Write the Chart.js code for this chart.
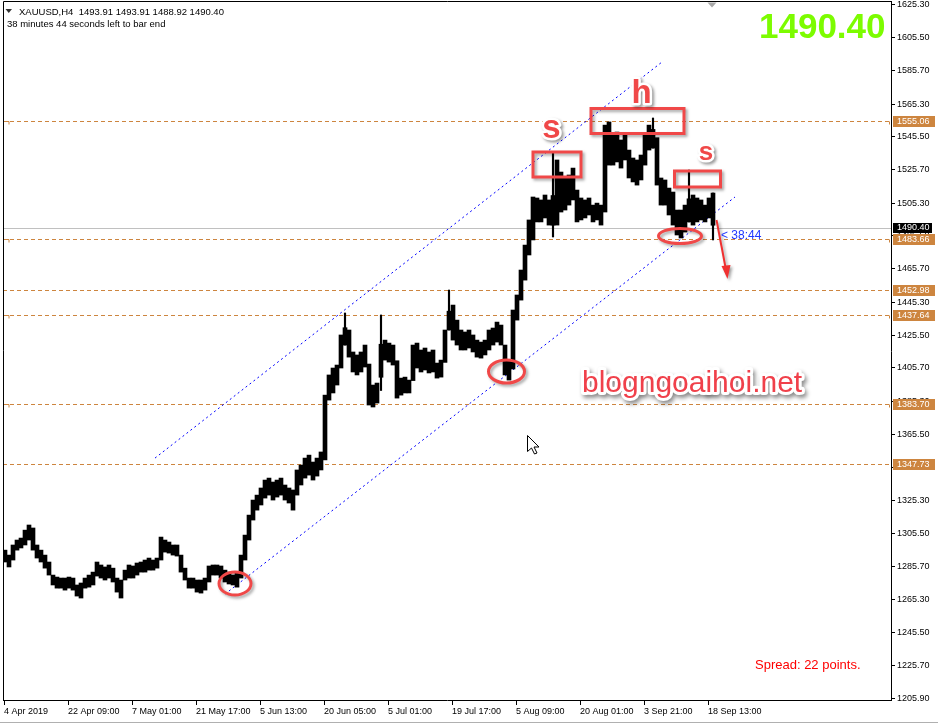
<!DOCTYPE html>
<html><head><meta charset="utf-8">
<script src="https://cdn.jsdelivr.net/npm/chart.js@4/dist/chart.umd.min.js"></script>
<style>html,body{margin:0;padding:0;background:#fff;overflow:hidden}canvas{display:block}</style>
</head><body>
<canvas id="c" width="938" height="725"></canvas>
<script>
// ---------- data ----------
const symbolTitle = 'XAUUSD,H4';
const lastBarOHLC = ['1493.91', '1493.91', '1488.92', '1490.40'];
const timerText = '38 minutes 44 seconds left to bar end';
const dateLabels = ['4 Apr 2019', '22 Apr 09:00', '7 May 01:00', '21 May 17:00', '5 Jun 13:00', '20 Jun 05:00',
  '5 Jul 01:00', '19 Jul 17:00', '5 Aug 09:00', '20 Aug 01:00', '3 Sep 21:00', '18 Sep 13:00'];
const dateTickBars = [1, 65, 129, 193, 257, 321, 385, 449, 513, 577, 641, 705];
const priceTicks = [1625.30, 1605.50, 1585.70, 1565.30, 1545.50, 1525.70, 1505.30, 1485.50, 1465.70, 1445.30, 1425.50,
  1405.70, 1385.30, 1365.50, 1345.70, 1325.30, 1305.50, 1285.70, 1265.30, 1245.50, 1225.70, 1205.90];
// high / low of the body of each group of 4 H4 bars
const barHigh = [
1295.4,1292.4,1298.5,1301.5,1302.7,1307.5,1310.6,1308.8,1298.5,1295.4,
1292.4,1288.2,1280.3,1279.1,1278.5,1278.5,1279.1,1278.5,1274.3,1275.5,
1278.5,1280.3,1282.1,1288.2,1286.4,1285.2,1286.4,1284.5,1278.5,1277.3,
1283.3,1286.4,1285.8,1287.6,1288.2,1289.4,1290.6,1289.4,1290.6,1303.3,
1301.5,1300.3,1298.5,1298.5,1292.4,1284.5,1278.5,1278.5,1277.3,1277.3,
1278.5,1285.8,1286.4,1286.4,1285.8,1283.3,1282.1,1280.3,1282.1,1292.4,
1304.5,1316.6,1325.7,1328.7,1333.0,1337.8,1339.0,1336.6,1337.8,1339.0,
1334.8,1333.0,1331.8,1343.9,1346.9,1351.1,1352.9,1348.7,1351.1,1354.8,
1389.2,1401.4,1405.6,1407.4,1425.6,1430.0,1428.6,1415.3,1413.5,1415.3,
1419.5,1408.0,1395.3,1396.5,1420.0,1422.5,1420.7,1419.5,1410.0,1399.5,
1400.1,1398.3,1419.5,1420.7,1416.5,1417.7,1415.3,1416.5,1408.6,1410.4,
1428.6,1440.0,1443.7,1434.6,1428.6,1427.4,1428.6,1425.6,1422.5,1421.3,
1422.5,1428.6,1429.8,1433.4,1431.6,1419.5,1410.4,1440.7,1449.8,1464.9,
1480.0,1495.2,1509.1,1508.5,1507.3,1510.3,1507.3,1510.0,1531.5,1524.2,
1520.6,1522.4,1526.6,1513.3,1508.5,1507.3,1508.5,1504.2,1505.4,1504.2,
1552.6,1554.5,1546.6,1548.4,1543.6,1546.6,1537.5,1532.7,1531.5,1534.5,
1546.6,1552.6,1550.0,1545.0,1520.6,1519.4,1514.5,1512.1,1501.2,1501.2,
1504.2,1508.0,1510.3,1508.5,1507.3,1504.2,1508.5,1511.5];
const barLow = [
1288.2,1285.2,1289.4,1295.4,1296.7,1298.5,1301.5,1295.4,1290.6,1288.2,
1284.5,1280.3,1274.3,1272.4,1272.4,1271.2,1272.4,1271.2,1267.6,1266.4,
1272.4,1273.0,1274.3,1279.7,1278.5,1277.3,1278.5,1276.1,1270.0,1266.4,
1277.3,1278.5,1278.5,1280.3,1282.1,1282.1,1283.3,1283.3,1284.5,1289.4,
1294.2,1293.6,1292.4,1291.8,1282.1,1277.3,1272.4,1272.4,1270.0,1269.4,
1271.2,1276.1,1280.3,1280.3,1278.5,1276.1,1274.9,1274.3,1273.0,1278.5,
1289.4,1301.5,1313.6,1319.6,1322.7,1326.9,1328.7,1325.7,1327.5,1328.7,
1325.7,1323.9,1319.6,1328.7,1334.8,1339.0,1340.8,1337.8,1340.2,1343.9,
1350.0,1386.2,1390.5,1395.3,1405.6,1419.5,1412.2,1403.2,1401.4,1403.2,
1406.2,1383.2,1382.0,1384.4,1400.0,1410.4,1409.2,1407.4,1387.4,1389.2,
1390.5,1390.5,1398.0,1405.6,1403.2,1404.4,1402.6,1403.2,1399.5,1400.1,
1409.0,1428.6,1422.5,1419.5,1416.5,1416.5,1417.7,1415.3,1412.2,1411.6,
1413.5,1416.5,1419.5,1421.3,1419.5,1401.4,1398.3,1405.0,1434.6,1446.7,
1458.8,1474.0,1483.1,1494.0,1494.0,1496.4,1492.1,1492.0,1492.1,1500.0,
1501.2,1504.2,1507.3,1494.0,1495.2,1496.4,1498.2,1494.0,1495.2,1492.1,
1500.0,1528.4,1528.4,1530.3,1526.6,1531.5,1520.6,1518.2,1516.3,1519.4,
1528.4,1537.5,1538.7,1516.3,1504.2,1504.2,1498.2,1492.1,1486.1,1484.3,
1487.9,1494.0,1492.1,1494.0,1495.2,1494.0,1496.4,1492.0];
// single long bars (spikes): group index, high, low
const spikeGroup = [85, 94, 111, 137, 162, 171, 177];
const spikeHigh = [1438.9, 1437.7, 1452.8, 1535.7, 1556.9, 1525.4, 1511.5];
const spikeLow = [1419.5, 1392.0, 1428.6, 1484.9, 1538.7, 1494.0, 1483.1];
const barsPerGroup = 4;
const levelPrices = [1555.06, 1483.66, 1452.98, 1437.64, 1383.70, 1347.73];
const alertLevels = [1555.06, 1483.66, 1437.64, 1383.70];
const bidPrice = 1490.40;
const channelUpperBars = [152, 659];
const channelUpperPrices = [1351.1, 1590.8];
const channelLowerBars = [222, 732];
const channelLowerPrices = [1268.8, 1509.1];

// ---------- chart ----------
const FONT = '"Liberation Sans", Arial, sans-serif';
Chart.defaults.font.family = FONT;

const hlData = barHigh.map((h, i) => ({ x: i * barsPerGroup + barsPerGroup / 2, y: [barLow[i], h] }));
const spikeData = spikeGroup.map((g, i) => ({ x: g * barsPerGroup + barsPerGroup / 2, y: [spikeLow[i], spikeHigh[i]] }));
const upperData = channelUpperBars.map((b, i) => ({ x: b, y: channelUpperPrices[i] }));
const lowerData = channelLowerBars.map((b, i) => ({ x: b, y: channelLowerPrices[i] }));

function shadow(ctx, on, blur, ox, oy, col) {
  if (on) { ctx.shadowColor = col || 'rgba(0,0,0,0.35)'; ctx.shadowBlur = blur; ctx.shadowOffsetX = ox; ctx.shadowOffsetY = oy; }
  else { ctx.shadowColor = 'rgba(0,0,0,0)'; ctx.shadowBlur = 0; ctx.shadowOffsetX = 0; ctx.shadowOffsetY = 0; }
}

const overlay = {
  id: 'mt4overlay',
  beforeDatasetsDraw(chart) {
    const { ctx, chartArea: a, scales: { y } } = chart;
    ctx.save();
    ctx.lineWidth = 1;
    ctx.strokeStyle = '#c0c0c0';
    let py = Math.round(y.getPixelForValue(bidPrice)) + 0.5;
    ctx.beginPath(); ctx.moveTo(a.left, py); ctx.lineTo(a.right, py); ctx.stroke();
    ctx.strokeStyle = '#cd853f';
    ctx.setLineDash([4, 3]);
    levelPrices.forEach(p => {
      const yy = Math.round(y.getPixelForValue(p)) + 0.5;
      ctx.beginPath(); ctx.moveTo(a.left, yy); ctx.lineTo(a.right, yy); ctx.stroke();
    });
    ctx.setLineDash([]);
    alertLevels.forEach(p => {
      const yy = Math.round(y.getPixelForValue(p)) + 0.5;
      ctx.beginPath(); ctx.moveTo(a.left + 1, yy); ctx.lineTo(a.left + 6, yy); ctx.lineTo(a.left + 6, yy + 3); ctx.stroke();
      ctx.beginPath(); ctx.moveTo(a.right - 1.5, yy); ctx.lineTo(a.right - 1.5, yy + 3); ctx.stroke();
    });
    ctx.restore();
  },
  afterDatasetsDraw(chart) {
    const ctx = chart.ctx;
    ctx.save();
    const red = '#f04848';
    // rectangles
    ctx.lineWidth = 3; ctx.strokeStyle = red;
    shadow(ctx, true, 3, 2, 2);
    [[533, 152, 48, 25], [591, 108.5, 93, 25], [674.5, 171, 46, 16]].forEach(r => ctx.strokeRect(r[0], r[1], r[2], r[3]));
    // ellipses
    [[235, 583.5, 16, 11.5], [506.5, 371.5, 18, 11.5], [680, 236, 21.5, 7.5]].forEach(e => {
      ctx.beginPath(); ctx.ellipse(e[0], e[1], e[2], e[3], 0, 0, Math.PI * 2); ctx.stroke();
    });
    // arrow
    ctx.lineWidth = 2; ctx.strokeStyle = '#f03030'; ctx.fillStyle = '#f03030';
    ctx.beginPath(); ctx.moveTo(716.5, 220); ctx.lineTo(726, 270); ctx.stroke();
    ctx.beginPath(); ctx.moveTo(727.5, 279); ctx.lineTo(721.5, 266); ctx.lineTo(730.5, 265); ctx.closePath(); ctx.fill();
    // letters
    ctx.textAlign = 'center'; ctx.textBaseline = 'alphabetic'; ctx.lineJoin = 'round';
    [['s', 551.5, 138, 33], ['h', 641.5, 103, 33], ['s', 706, 160, 26]].forEach(t => {
      ctx.font = 'bold ' + t[3] + 'px ' + FONT;
      shadow(ctx, true, 3, 2, 2, 'rgba(0,0,0,0.4)');
      ctx.lineWidth = 5; ctx.strokeStyle = '#ffffff';
      ctx.strokeText(t[0], t[1], t[2]);
      shadow(ctx, false);
      ctx.fillStyle = red; ctx.fillText(t[0], t[1], t[2]);
    });
    // watermark
    ctx.font = '30px ' + FONT; ctx.textAlign = 'left';
    shadow(ctx, true, 4, 2, 3, 'rgba(0,0,0,0.45)');
    ctx.lineWidth = 6; ctx.strokeStyle = '#ffffff';
    ctx.strokeText('blogngoaihoi.net', 582, 392);
    shadow(ctx, false);
    ctx.fillStyle = '#f0404a'; ctx.fillText('blogngoaihoi.net', 582, 392);
    // timer label near price
    ctx.font = '12px ' + FONT; ctx.fillStyle = '#2038ff'; ctx.textBaseline = 'middle';
    ctx.fillText('< 38:44', 721, 236);
    ctx.restore();
  },
  afterDraw(chart) {
    const { ctx, chartArea: a, scales: { y } } = chart;
    ctx.save();
    ctx.strokeStyle = '#000'; ctx.lineWidth = 1;
    ctx.beginPath(); ctx.moveTo(a.left + 0.5, a.bottom); ctx.lineTo(a.left + 0.5, a.top - 0.5); ctx.lineTo(a.right + 1, a.top - 0.5); ctx.stroke();
    ctx.font = '9px ' + FONT; ctx.textBaseline = 'middle'; ctx.textAlign = 'left';
    levelPrices.forEach(p => {
      const yy = Math.round(y.getPixelForValue(p));
      ctx.fillStyle = '#cd853f'; ctx.fillRect(a.right + 2, yy - 5, 42, 11);
      ctx.fillStyle = '#fff'; ctx.fillText(p.toFixed(2), a.right + 6, yy + 0.5);
    });
    const by = Math.round(y.getPixelForValue(bidPrice));
    ctx.fillStyle = '#000'; ctx.fillRect(a.right + 2, by - 5, 39, 10);
    ctx.fillStyle = '#fff'; ctx.fillText(bidPrice.toFixed(2), a.right + 6, by);
    ctx.fillStyle = '#333';
    ctx.beginPath(); ctx.moveTo(5.5, 9); ctx.lineTo(12, 9); ctx.lineTo(8.75, 13); ctx.closePath(); ctx.fill();
    ctx.fillStyle = '#000'; ctx.font = '9.5px ' + FONT; ctx.textBaseline = 'alphabetic';
    ctx.fillText(symbolTitle + '  ' + lastBarOHLC.join(' '), 19, 15);
    ctx.fillText(timerText, 7, 27);
    ctx.fillStyle = '#a8a8a8';
    ctx.beginPath(); ctx.moveTo(707.5, 2.5); ctx.lineTo(716.5, 2.5); ctx.lineTo(712, 7.5); ctx.closePath(); ctx.fill();
    ctx.font = 'bold 35px ' + FONT; ctx.fillStyle = '#7cfc00'; ctx.textAlign = 'right';
    ctx.fillText(bidPrice.toFixed(2), 885.5, 37.5);
    ctx.font = '13px ' + FONT; ctx.fillStyle = '#ff0000'; ctx.textAlign = 'left';
    ctx.fillText('Spread: 22 points.', 755, 668.5);
    const cx = 527, cy = 435;
    ctx.beginPath();
    [[0, 0], [0, 16], [4, 12.5], [7, 18.5], [9.5, 17.5], [6.5, 11.5], [11.5, 11.5]].forEach((p, i) => {
      i ? ctx.lineTo(cx + p[0] + 0.5, cy + p[1] + 0.5) : ctx.moveTo(cx + p[0] + 0.5, cy + p[1] + 0.5);
    });
    ctx.closePath(); ctx.fillStyle = '#fff'; ctx.fill(); ctx.strokeStyle = '#000'; ctx.lineWidth = 1; ctx.stroke();
    ctx.strokeStyle = '#b0b0b0';
    ctx.beginPath(); ctx.moveTo(0, 722.5); ctx.lineTo(938, 722.5); ctx.stroke();
    ctx.restore();
  }
};

new Chart(document.getElementById('c'), {
  type: 'bar',
  data: {
    datasets: [
      { type: 'bar', data: hlData, backgroundColor: '#000', borderWidth: 0, barThickness: 4, grouped: false, order: 0 },
      { type: 'bar', data: spikeData, backgroundColor: '#000', borderWidth: 0, barThickness: 1.5, grouped: false, order: 0 },
      { type: 'line', data: upperData, borderColor: '#0000ff', borderWidth: 1, borderDash: [2, 3], pointRadius: 0, fill: false, order: 1 },
      { type: 'line', data: lowerData, borderColor: '#0000ff', borderWidth: 1, borderDash: [2, 3], pointRadius: 0, fill: false, order: 1 }
    ]
  },
  options: {
    responsive: false, animation: false, devicePixelRatio: 1,
    layout: { padding: { left: 3, top: 2, right: 0, bottom: 0 } },
    plugins: { legend: { display: false }, tooltip: { enabled: false } },
    scales: {
      x: {
        type: 'linear', position: 'bottom', min: 0, max: 888, offset: false,
        grid: { drawOnChartArea: false, drawTicks: true, tickLength: 5, color: '#000', offset: false },
        border: { display: true, color: '#000' },
        ticks: {
          autoSkip: false, maxRotation: 0, minRotation: 0, align: 'start', padding: 1, color: '#000',
          font: { size: 9, family: FONT },
          callback: v => { const k = dateTickBars.indexOf(v); return k >= 0 ? dateLabels[k] : ''; }
        },
        afterBuildTicks: s => { s.ticks = dateTickBars.map(v => ({ value: v })); },
        afterFit: s => { s.height = 25; s.paddingLeft = 0; s.paddingRight = 0; }
      },
      y: {
        type: 'linear', position: 'right', min: 1204.7, max: 1627.1,
        grid: { drawOnChartArea: false, drawTicks: true, tickLength: 4, color: '#000' },
        border: { display: true, color: '#000' },
        ticks: {
          autoSkip: false, padding: 2, color: '#000', font: { size: 9, family: FONT },
          callback: v => Number(v).toFixed(2)
        },
        afterBuildTicks: s => { s.ticks = priceTicks.map(v => ({ value: v })); },
        afterFit: s => { s.width = 47; s.paddingTop = 0; s.paddingBottom = 0; }
      }
    }
  },
  plugins: [overlay]
});
</script>
</body></html>
